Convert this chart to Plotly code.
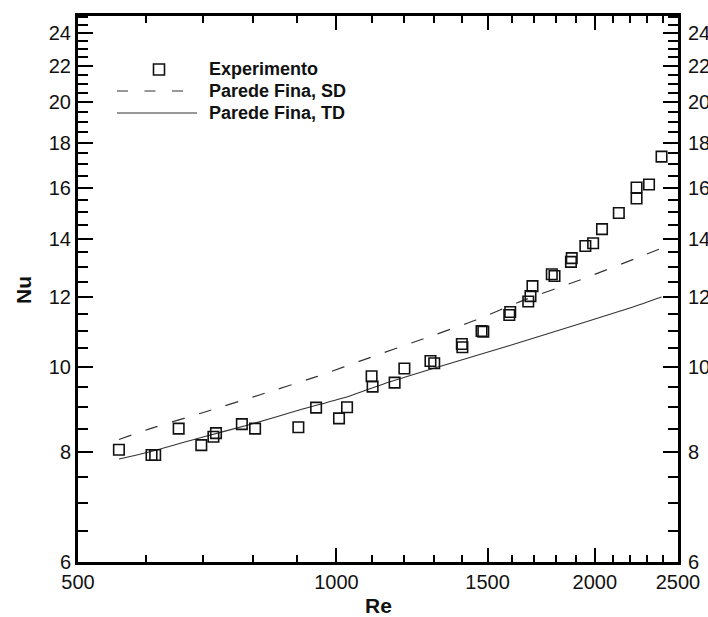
import plotly.graph_objects as go
import numpy as np

# ---------------- data ----------------
exp_re = [558, 609, 615, 655, 696, 719, 724, 776, 804, 903, 947, 1007, 1029,
          1099, 1102, 1169, 1200, 1287, 1300, 1400, 1402, 1476, 1483, 1594,
          1590, 1673, 1683, 1692, 1782, 1795, 1880, 1876, 1950, 1991, 2039,
          2133, 2237, 2237, 2313, 2392]
exp_nu = [8.05, 7.94, 7.94, 8.51, 8.15, 8.33, 8.41, 8.61, 8.51, 8.54, 8.99,
          8.74, 9.00, 9.76, 9.50, 9.60, 9.96, 10.16, 10.10, 10.62, 10.53, 10.99,
          10.97, 11.55, 11.46, 11.87, 12.04, 12.36, 12.75, 12.69, 13.30, 13.17,
          13.73, 13.83, 14.35, 14.97, 16.00, 15.55, 16.13, 17.35]

sd_re = [558, 607, 706, 815, 948, 1094, 1261, 1454, 1659, 1922, 2237, 2392]
sd_nu = [8.27, 8.51, 8.90, 9.30, 9.75, 10.25, 10.76, 11.31, 11.93, 12.56, 13.30, 13.65]

td_re = [558, 607, 694, 793, 907, 1037, 1133, 1296, 1482, 1695, 1938, 2216, 2392]
td_nu = [7.86, 8.01, 8.31, 8.60, 8.94, 9.27, 9.56, 9.96, 10.36, 10.78, 11.23, 11.70, 12.01]

x_major = [500, 1000, 1500, 2000, 2500]
x_minor = [600, 700, 800, 900, 1100, 1200, 1300, 1400, 1600, 1700, 1800, 1900,
           2100, 2200, 2300, 2400]
y_major = [6, 8, 10, 12, 14, 16, 18, 20, 22, 24]
y_minor = [6.5, 7, 7.5, 8.5, 9, 9.5, 10.5, 11, 11.5, 12.5, 13, 13.5, 14.5, 15,
           15.5, 16.5, 17, 17.5, 18.5, 19, 19.5, 20.5, 21, 21.5, 22.5, 23, 23.5,
           24.5, 25]

legend_labels = ["Experimento", "Parede Fina, SD", "Parede Fina, TD"]

# ---------------- layout geometry ----------------
W, H = 708, 617
ML, MR, MT, MB = 78, 30, 16, 55
PW, PH = W - ML - MR, H - MT - MB
xr = [np.log10(500), np.log10(2500)]
yr = [np.log10(6), np.log10(6) + PH / 879.0]

def px(x):
    return (x - ML) / PW

def py(y):
    return (H - MB - y) / PH

FONT = "Liberation Sans, Arial, sans-serif"
INK = "#111111"

fig = go.Figure()
fig.add_trace(go.Scatter(x=sd_re, y=sd_nu, mode="lines",
                         line=dict(color="#333333", width=1.2, dash="13px,15px",
                                   shape="spline", smoothing=0.6),
                         showlegend=False, hoverinfo="skip"))
fig.add_trace(go.Scatter(x=td_re, y=td_nu, mode="lines",
                         line=dict(color="#333333", width=1.1,
                                   shape="spline", smoothing=0.6),
                         showlegend=False, hoverinfo="skip"))
fig.add_trace(go.Scatter(x=exp_re, y=exp_nu, mode="markers",
                         marker=dict(symbol="square-open", size=10.5,
                                     color="#111111",
                                     line=dict(width=1.6, color="#111111")),
                         showlegend=False))
# helper trace for right-hand axis
fig.add_trace(go.Scatter(x=td_re, y=td_nu, yaxis="y2", mode="lines",
                         line=dict(width=0), opacity=0,
                         showlegend=False, hoverinfo="skip"))

tickfont = dict(family=FONT, size=20, color=INK)
common = dict(showgrid=False, zeroline=False, showline=True, linecolor="black",
              linewidth=3, ticks="inside", tickcolor="black", tickwidth=1.5,
              tickfont=tickfont)

fig.update_layout(
    width=W, height=H,
    margin=dict(l=ML, r=MR, t=MT, b=MB, autoexpand=False),
    paper_bgcolor="white", plot_bgcolor="white",
    showlegend=False,
    xaxis=dict(type="log", range=xr, tickmode="array", tickvals=x_major,
               ticktext=[str(v) for v in x_major], ticklen=14, mirror="ticks",
               minor=dict(tickmode="array", tickvals=x_minor, ticks="inside",
                          ticklen=7, tickwidth=1.5, tickcolor="black"),
               **common),
    yaxis=dict(type="log", range=yr, tickmode="array", tickvals=y_major,
               ticktext=[str(v) for v in y_major], ticklen=15, mirror=True,
               minor=dict(tickmode="array", tickvals=y_minor, ticks="inside",
                          ticklen=10, tickwidth=1.5, tickcolor="black"),
               **common),
    yaxis2=dict(type="log", range=yr, overlaying="y", side="right",
                tickmode="array", tickvals=y_major,
                ticktext=[str(v) for v in y_major], ticklen=15,
                automargin=False, ticklabelstandoff=3,
                minor=dict(tickmode="array", tickvals=y_minor, ticks="inside",
                           ticklen=10, tickwidth=1.5, tickcolor="black"),
                **common),
)

# axis titles
fig.add_annotation(text="<b>Re</b>", xref="paper", yref="paper", x=px(378),
                   y=py(605), showarrow=False, xanchor="center", yanchor="middle",
                   font=dict(family=FONT, size=21, color=INK))
fig.add_annotation(text="<b>Nu</b>", xref="paper", yref="paper", x=px(23),
                   y=py(290), showarrow=False, xanchor="center", yanchor="middle",
                   textangle=-90, font=dict(family=FONT, size=21, color=INK))

# legend (drawn inside plot, top-left)
fig.add_shape(type="rect", xref="paper", yref="paper",
              x0=px(153.5), x1=px(164.5), y0=py(75), y1=py(64),
              line=dict(color="#111111", width=1.6))
fig.add_shape(type="line", xref="paper", yref="paper",
              x0=px(117), x1=px(190), y0=py(91), y1=py(91),
              line=dict(color="#333333", width=1.2, dash="11px,16.5px"))
fig.add_shape(type="line", xref="paper", yref="paper",
              x0=px(117), x1=px(197), y0=py(113), y1=py(113),
              line=dict(color="#333333", width=1.1))
for lbl, yy in zip(legend_labels, [69, 91, 113]):
    fig.add_annotation(text="<b>%s</b>" % lbl, xref="paper", yref="paper",
                       x=px(207), y=py(yy), showarrow=False, xanchor="left",
                       yanchor="middle",
                       font=dict(family=FONT, size=18, color=INK))

fig.write_html("out.html")
